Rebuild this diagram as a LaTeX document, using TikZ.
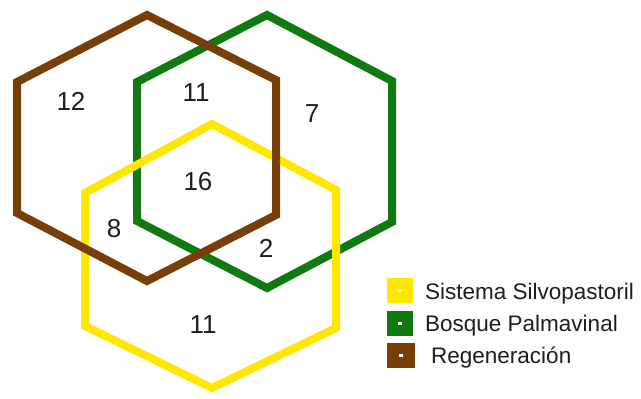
\documentclass[tikz,border=0pt]{standalone}
\usepackage{fontspec}
\setmainfont{Liberation Sans}
\definecolor{cyel}{RGB}{255,232,0}
\definecolor{cgrn}{RGB}{16,122,16}
\definecolor{cbrn}{RGB}{120,62,8}
\definecolor{ctxt}{RGB}{30,30,30}
\begin{document}
\begin{tikzpicture}[x=1pt,y=-1pt,
  hexline/.style={line width=8pt,line join=miter},
  num/.style={font=\fontsize{26}{26}\selectfont,text=ctxt,inner sep=0pt},
  legbox/.style={minimum width=26pt,minimum height=25pt,inner sep=0pt},
  legdot/.style={fill=white,minimum width=4pt,minimum height=3pt,inner sep=0pt},
  legtxt/.style={font=\fontsize{22.5}{22.5}\selectfont,text=ctxt,anchor=base west,inner sep=0pt}]
\fill[white] (0,0) rectangle (641,399);
\useasboundingbox (0,0) rectangle (641,399);
% green
\draw[hexline,cgrn] (267,15) -- (392,81) -- (392,222) -- (267,288) -- (137,221) -- (137,82) -- cycle;
% yellow
\draw[hexline,cyel] (212,124) -- (336,190) -- (336,328) -- (212,388) -- (85,326) -- (85,193) -- cycle;
% brown
\draw[hexline,cbrn] (147,15) -- (276,80) -- (276,215) -- (147,281) -- (17,213) -- (17,82) -- cycle;
% numbers
\node[num] (n12) at (71,101) {12};
\node[num] (n11a) at (196,93) {11};
\node[num] (n7) at (312,114) {7};
\node[num] (n16) at (198,182) {16};
\node[num] (n8) at (114,229) {8};
\node[num] (n2) at (266,248) {2};
\node[num] (n11b) at (203,325) {11};
% legend
\node[legbox,fill=cyel] (ly) at (400,290.5) {};
\node[legdot] (lyd) at (ly.center) {};
\node[legbox,fill=cgrn] (lg) at (400,323.5) {};
\node[legdot] (lgd) at (lg.center) {};
\node[legbox,fill=cbrn,minimum width=28pt] (lb) at (401,355.5) {};
\node[legdot] (lbd) at (lb.center) {};
\node[legtxt] (ty) at (425,299) {Sistema Silvopastoril};
\node[legtxt] (tg) at (425,331) {Bosque Palmavinal};
\node[legtxt] (tb) at (431,363) {Regeneración};
\end{tikzpicture}
\end{document}
